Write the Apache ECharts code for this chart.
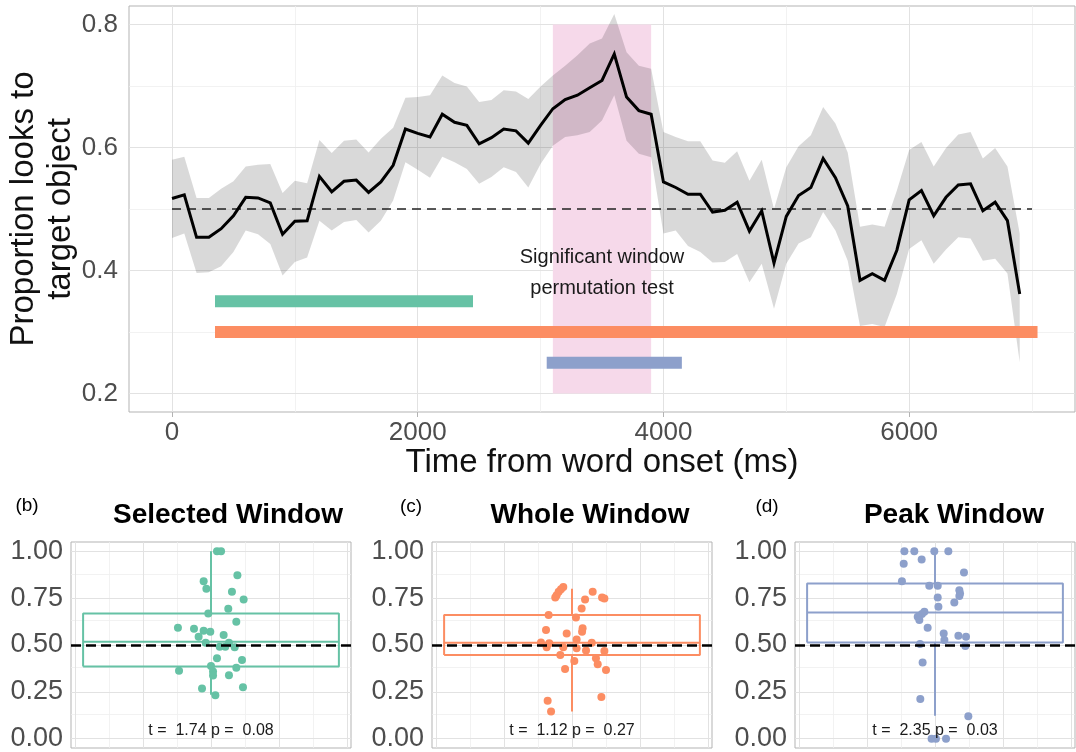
<!DOCTYPE html>
<html><head><meta charset="utf-8">
<script src="https://cdn.jsdelivr.net/npm/echarts@6/dist/echarts.min.js"></script>
<style>html,body{margin:0;padding:0;background:#fff}#c{width:1076px;height:752px}</style>
</head><body><div id="c"></div>
<script>
// ---------- (a) time course ----------
const timeMs = [0,100,200,300,400,500,600,700,800,900,1000,1100,1200,1300,1400,1500,1600,1700,1800,1900,
  2000,2100,2200,2300,2400,2500,2600,2700,2800,2900,3000,3100,3200,3300,3400,3500,3600,3700,3800,3900,
  4000,4100,4200,4300,4400,4500,4600,4700,4800,4900,5000,5100,5200,5300,5400,5500,5600,5700,5800,5900,
  6000,6100,6200,6300,6400,6500,6600,6700,6800,6900];
const meanProp = [0.517,0.523,0.454,0.454,0.468,0.489,0.519,0.518,0.510,0.459,0.480,0.481,0.553,0.528,0.545,0.547,0.527,0.544,0.571,0.630,
  0.623,0.617,0.654,0.641,0.636,0.606,0.616,0.630,0.627,0.607,0.636,0.663,0.678,0.685,0.697,0.709,0.752,0.682,0.660,0.654,
  0.544,0.535,0.524,0.524,0.495,0.498,0.511,0.464,0.497,0.412,0.488,0.522,0.535,0.582,0.551,0.505,0.384,0.395,0.384,0.433,
  0.515,0.530,0.489,0.519,0.539,0.541,0.497,0.511,0.481,0.362];
const ciUpper = [0.580,0.585,0.518,0.518,0.533,0.545,0.569,0.572,0.573,0.526,0.546,0.542,0.612,0.591,0.611,0.613,0.592,0.614,0.632,0.681,
  0.682,0.685,0.717,0.705,0.699,0.674,0.677,0.693,0.691,0.679,0.699,0.717,0.733,0.750,0.769,0.777,0.817,0.755,0.733,0.728,
  0.625,0.617,0.610,0.610,0.579,0.575,0.594,0.546,0.580,0.500,0.568,0.602,0.620,0.666,0.639,0.592,0.471,0.475,0.471,0.530,
  0.596,0.609,0.569,0.599,0.621,0.625,0.582,0.599,0.569,0.460];
const ciLower = [0.453,0.460,0.396,0.397,0.407,0.430,0.465,0.459,0.443,0.392,0.414,0.421,0.481,0.465,0.479,0.482,0.462,0.481,0.514,0.576,
  0.564,0.551,0.585,0.576,0.565,0.541,0.552,0.568,0.560,0.535,0.573,0.603,0.617,0.620,0.625,0.644,0.685,0.611,0.590,0.584,
  0.460,0.465,0.440,0.430,0.413,0.414,0.427,0.381,0.411,0.338,0.411,0.444,0.454,0.495,0.465,0.416,0.310,0.313,0.308,0.362,
  0.435,0.449,0.411,0.434,0.454,0.452,0.416,0.419,0.395,0.251];
const chanceLevel = 0.5;
const chanceSpan = [0, 7000];
const sigWindow = [3100, 3900];
const sigWindowY = [0.2, 0.8];
const selectedWindow = [350, 2450];
const wholeWindow = [350, 7045];
const peakWindow = [3050, 4150];
const windowLevels = [0.35, 0.30, 0.25];
const xTicksMajor = [0, 2000, 4000, 6000];
const xTicksMinor = [1000, 3000, 5000, 7000];
const yTicksMajor = [0.2, 0.4, 0.6, 0.8];
const yTicksMinor = [0.3, 0.5, 0.7];

// ---------- (b)(c)(d) box panels ----------
const selJitter = [0.044,0.074,-0.054,-0.034,0.194,0.154,0.240,0.127,-0.020,0.186,-0.243,-0.125,-0.054,-0.005,-0.091,0.093,-0.039,0.132,0.064,0.105,0.174,0.044,0.228,0,0.186,-0.235,0.015,0.132,0.015,-0.066,0.235,0.032];
const selValues = [1.00,1.00,0.840,0.801,0.872,0.784,0.743,0.693,0.668,0.624,0.592,0.587,0.576,0.571,0.544,0.553,0.512,0.512,0.491,0.491,0.488,0.429,0.420,0.388,0.379,0.363,0.358,0.339,0.337,0.268,0.275,0.232];
const wholeJitter = [-0.064,-0.081,-0.098,-0.113,-0.123,0.152,0.221,0.238,0.096,0.071,-0.172,0.029,0.078,0.074,-0.191,-0.039,-0.228,-0.167,0.034,0.145,-0.186,-0.064,0.034,0.103,0.238,-0.086,0.176,0.189,0.017,0.250,-0.051,-0.179,0.216,-0.154];
const wholeValues = [0.810,0.798,0.784,0.766,0.754,0.784,0.754,0.748,0.743,0.695,0.660,0.647,0.589,0.571,0.580,0.562,0.514,0.509,0.530,0.512,0.488,0.488,0.482,0.470,0.468,0.447,0.429,0.397,0.415,0.367,0.372,0.202,0.222,0.145];
const peakJitter = [-0.225,-0.152,-0.005,0.098,-0.230,-0.098,0.213,-0.243,-0.042,0.020,0.179,0.184,0.179,0.020,0.142,0.025,-0.078,-0.096,-0.127,-0.115,-0.054,0.064,0.172,0.228,0.069,-0.110,0.223,-0.091,-0.108,0.245,-0.025,0.007,0.081];
const peakValues = [1.00,1.00,1.00,1.00,0.934,0.957,0.887,0.840,0.816,0.816,0.793,0.775,0.761,0.754,0.727,0.704,0.677,0.665,0.651,0.633,0.592,0.562,0.550,0.544,0.527,0.505,0.495,0.406,0.211,0.119,0.00,0.00,0.00];
// [lower whisker, Q1, median, Q3, upper whisker]
const selBox = [0.235, 0.385, 0.518, 0.668, 1.00];
const wholeBox = [0.145, 0.447, 0.512, 0.660, 0.801];
const peakBox = [0.122, 0.514, 0.674, 0.828, 1.00];
const panelTitles = ['Selected Window', 'Whole Window', 'Peak Window'];
const panelTags = ['(b)', '(c)', '(d)'];
const panelStats = ['t =  1.74 p =  0.08', 't =  1.12 p =  0.27', 't =  2.35 p =  0.03'];
const panelColors = ['#66c2a5', '#fc8d62', '#8da0cb'];
const boxYMajor = [0, 0.25, 0.5, 0.75, 1];
const boxYMinor = [0.125, 0.375, 0.625, 0.875];
const boxXMajor = [-1, -0.5, 0, 0.5, 1];
const boxXMinor = [-0.75, -0.25, 0.25, 0.75];
const boxHalfWidth = 0.94;

const FONT = '"Liberation Sans", Arial, Helvetica, sans-serif';
const LABEL = '#4d4d4d';
const BORDER = '#b3b3b3';

function gridLines(xi, xMaj, xMin, yMaj, yMin) {
  const minor = {color: '#efefef', width: 0.8, type: 'solid'};
  const major = {color: '#e2e2e2', width: 1, type: 'solid'};
  const d = [];
  xMin.forEach(v => d.push({xAxis: v, lineStyle: minor}));
  yMin.forEach(v => d.push({yAxis: v, lineStyle: minor}));
  xMaj.forEach(v => d.push({xAxis: v, lineStyle: major}));
  yMaj.forEach(v => d.push({yAxis: v, lineStyle: major}));
  return {type: 'line', xAxisIndex: xi, yAxisIndex: xi, data: [], silent: true, z: 1,
    markLine: {silent: true, z: 1, symbol: ['none', 'none'], label: {show: false}, animation: false, data: d}};
}

const grids = [
  {left: 129, top: 6, width: 946, height: 406},
  {left: 71, top: 542, width: 280, height: 206},
  {left: 432, top: 542, width: 280, height: 206},
  {left: 795, top: 542, width: 280, height: 206}
].map(g => Object.assign(g, {show: true, borderColor: BORDER, borderWidth: 1, backgroundColor: 'transparent', containLabel: false, outerBoundsMode: 'none'}));

const xAxes = [{
  gridIndex: 0, type: 'value', min: -350, max: 7350,
  axisLine: {show: false}, splitLine: {show: false},
  axisTick: {show: true, customValues: xTicksMajor, length: 5, lineStyle: {color: BORDER}},
  axisLabel: {customValues: xTicksMajor, fontSize: 26, color: LABEL, fontFamily: FONT, margin: 8, formatter: v => String(v)}
}];
const yAxes = [{
  gridIndex: 0, type: 'value', min: 0.17, max: 0.83,
  axisLine: {show: false}, splitLine: {show: false},
  axisTick: {show: true, customValues: yTicksMajor, length: 5, lineStyle: {color: BORDER}},
  axisLabel: {customValues: yTicksMajor, fontSize: 26, color: LABEL, fontFamily: FONT, margin: 11, formatter: v => v.toFixed(1)}
}];
for (let i = 1; i <= 3; i++) {
  xAxes.push({gridIndex: i, type: 'value', min: -1.029, max: 1.029,
    axisLine: {show: false}, splitLine: {show: false},
    axisTick: {show: true, customValues: boxXMajor, length: 5, lineStyle: {color: BORDER}},
    axisLabel: {show: false}});
  yAxes.push({gridIndex: i, type: 'value', min: -0.05, max: 1.05,
    axisLine: {show: false}, splitLine: {show: false},
    axisTick: {show: true, customValues: boxYMajor, length: 5, lineStyle: {color: BORDER}},
    axisLabel: {customValues: boxYMajor, fontSize: 27, color: LABEL, fontFamily: FONT, margin: 8, formatter: v => v.toFixed(2)}});
}

const series = [];
series.push(gridLines(0, xTicksMajor, xTicksMinor, yTicksMajor, yTicksMinor));
series.push({type: 'line', xAxisIndex: 0, yAxisIndex: 0, data: [], silent: true, z: 2,
  markArea: {silent: true, z: 2, itemStyle: {color: '#f6d9ea'},
    data: [[{xAxis: sigWindow[0], yAxis: sigWindowY[0]}, {xAxis: sigWindow[1], yAxis: sigWindowY[1]}]]}});
// confidence ribbon: polygon through upper then lower bounds, positioned by the axes
series.push({type: 'custom', xAxisIndex: 0, yAxisIndex: 0, z: 3, silent: true, data: [0],
  renderItem: (params, api) => {
    const pts = [];
    timeMs.forEach((t, i) => pts.push(api.coord([t, ciUpper[i]])));
    for (let i = timeMs.length - 1; i >= 0; i--) pts.push(api.coord([timeMs[i], ciLower[i]]));
    return {type: 'polygon', shape: {points: pts}, style: {fill: 'rgba(0,0,0,0.15)'}};
  }});
[[selectedWindow, windowLevels[0], panelColors[0]], [wholeWindow, windowLevels[1], panelColors[1]], [peakWindow, windowLevels[2], panelColors[2]]]
  .forEach(([w, lvl, col]) => series.push({type: 'line', xAxisIndex: 0, yAxisIndex: 0, z: 4, silent: true,
    showSymbol: false, symbol: 'none', lineStyle: {color: col, width: 12, cap: 'butt'},
    data: [[w[0], lvl], [w[1], lvl]]}));
series.push({type: 'line', xAxisIndex: 0, yAxisIndex: 0, z: 4, silent: true, showSymbol: false, symbol: 'none',
  lineStyle: {color: '#222', width: 1.5, type: [9, 6]},
  data: [[chanceSpan[0], chanceLevel], [chanceSpan[1], chanceLevel]]});
series.push({type: 'line', xAxisIndex: 0, yAxisIndex: 0, z: 5, silent: true, showSymbol: false, symbol: 'none',
  lineStyle: {color: '#000', width: 3, join: 'miter'},
  data: timeMs.map((t, i) => [t, meanProp[i]])});

const panels = [[selJitter, selValues, selBox], [wholeJitter, wholeValues, wholeBox], [peakJitter, peakValues, peakBox]];
panels.forEach(([jx, vals, box], k) => {
  const ax = k + 1, col = panelColors[k], w = boxHalfWidth;
  series.push(gridLines(ax, boxXMajor, boxXMinor, boxYMajor, boxYMinor));
  const ls = {color: col, width: 2};
  const seg = (data) => ({type: 'line', xAxisIndex: ax, yAxisIndex: ax, z: 3, silent: true, showSymbol: false, symbol: 'none', lineStyle: ls, data});
  series.push(seg([[-w, box[1]], [w, box[1]], [w, box[3]], [-w, box[3]], [-w, box[1]]]));
  series.push(seg([[-w, box[2]], [w, box[2]]]));
  series.push(seg([[0, box[3]], [0, box[4]]]));
  series.push(seg([[0, box[1]], [0, box[0]]]));
  series.push({type: 'scatter', xAxisIndex: ax, yAxisIndex: ax, z: 4, silent: true, symbolSize: 8,
    itemStyle: {color: col, opacity: 1}, data: jx.map((x, i) => [x, vals[i]])});
  series.push({type: 'line', xAxisIndex: ax, yAxisIndex: ax, data: [], silent: true, z: 6,
    markLine: {silent: true, z: 6, symbol: ['none', 'none'], label: {show: false}, animation: false,
      data: [{yAxis: chanceLevel, lineStyle: {color: '#000', width: 2.5, type: [10, 5]}}]}});
});

const txt = (x, y, s, size, extra) => ({type: 'text', x, y, silent: true, z: 100,
  style: Object.assign({text: s, font: size + 'px ' + FONT, fill: '#1a1a1a', textAlign: 'center', textVerticalAlign: 'middle'}, extra || {})});

const graphic = [
  Object.assign(txt(42, 209, 'Proportion looks to\ntarget object', 33, {fill: '#111', lineHeight: 37}), {rotation: Math.PI / 2}),
  txt(602, 463, 'Time from word onset (ms)', 33, {fill: '#111'}),
  txt(602, 257, 'Significant window', 20),
  txt(602, 288, 'permutation test', 20),
  txt(228, 515, panelTitles[0], 28, {font: 'bold 28px ' + FONT, fill: '#000'}),
  txt(590, 515, panelTitles[1], 28, {font: 'bold 28px ' + FONT, fill: '#000'}),
  txt(954, 515, panelTitles[2], 28, {font: 'bold 28px ' + FONT, fill: '#000'}),
  txt(27, 506, panelTags[0], 19, {fill: '#000'}),
  txt(411, 507, panelTags[1], 19, {fill: '#000'}),
  txt(767, 507, panelTags[2], 19, {fill: '#000'}),
  txt(211, 731, panelStats[0], 16),
  txt(572, 731, panelStats[1], 16),
  txt(935, 731, panelStats[2], 16)
];

const chart = echarts.init(document.getElementById('c'), null, {renderer: 'canvas'});
chart.setOption({animation: false, backgroundColor: '#fff', grid: grids, xAxis: xAxes, yAxis: yAxes, series, graphic});
</script></body></html>
